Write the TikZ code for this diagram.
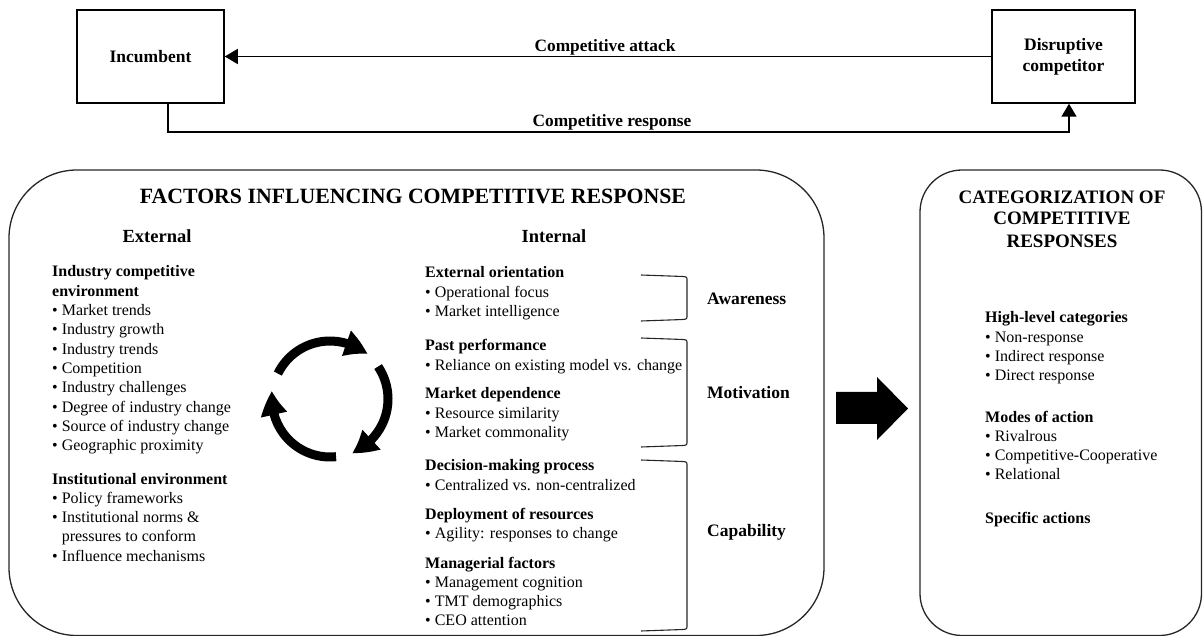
\documentclass[tikz,border=0pt]{standalone}
\usepackage{fontspec}
\setmainfont{Liberation Serif}
\usetikzlibrary{arrows.meta,bending}
\newcommand\bt{\textbullet\ }
\begin{document}
\begin{tikzpicture}[x=1pt,y=-1pt,
  actor/.style={draw, line width=1.5pt, align=center, inner sep=0pt,
    font=\fontsize{17.5}{21}\selectfont\bfseries},
  conn/.style={line width=1.5pt, -{Triangle[width=15pt,length=13pt]}},
  lbl/.style={anchor=base, inner sep=0pt, font=\fontsize{17.3}{20}\selectfont\bfseries},
  panel/.style={line width=1.3pt, draw=black!85},
  bigtitle/.style={anchor=base, inner sep=0pt, font=\fontsize{21.8}{22}\selectfont\bfseries},
  coltitle/.style={anchor=base, inner sep=0pt, font=\fontsize{18.5}{22}\selectfont\bfseries},
  body/.style={anchor=base west, inner sep=0pt, font=\fontsize{16}{19.3}\selectfont},
  head/.style={body, font=\fontsize{16}{19.3}\selectfont\bfseries},
  dim/.style={anchor=base west, inner sep=0pt, font=\fontsize{17.5}{21}\selectfont\bfseries},
  brace/.style={line width=1.1pt, draw=black!85},
  cyc/.style={line width=9pt, -{Triangle[width=25pt,length=24pt,bend]}}
]
\useasboundingbox (0,0) rectangle (1203,636);

% --- firms and their interaction ---
\node[actor, minimum width=147pt, minimum height=93pt] (inc) at (150.5,56.5) {Incumbent};
\node[actor, minimum width=143pt, minimum height=93pt] (dis) at (1063.5,56.5) {Disruptive\\competitor};
\draw[conn] (dis.west) -- (inc.east);
\node[lbl] (atk) at (605,52) {Competitive attack};
\coordinate (r1) at (168,132);
\coordinate (r2) at (1069,132);
\draw[conn] (inc.south -| r1) -- (r1) -- (r2) -- (dis.south -| r2);
\node[lbl] (rsp) at (612,127) {Competitive response};

% --- panels ---
\draw[panel, rounded corners=68pt] (9,170) rectangle (824,635.5);
\draw[panel, rounded corners=42pt] (920,170) rectangle (1201.5,635.5);

\node[bigtitle] (ftitle) at (413,204) {FACTORS INFLUENCING COMPETITIVE RESPONSE};
\node[coltitle] (ext) at (157,243) {External};
\node[coltitle] (int) at (554,243) {Internal};

% --- external factors ---
\node[head] (e1) at (52,277) {Industry competitive};
\node[head] (e2) at (52,296.3) {environment};
\node[body] (e3) at (52,315.6) {\bt Market trends};
\node[body] (e4) at (52,334.9) {\bt Industry growth};
\node[body] (e5) at (52,354.2) {\bt Industry trends};
\node[body] (e6) at (52,373.5) {\bt Competition};
\node[body] (e7) at (52,392.8) {\bt Industry challenges};
\node[body] (e8) at (52,412.1) {\bt Degree of industry change};
\node[body] (e9) at (52,431.4) {\bt Source of industry change};
\node[body] (e10) at (52,450.7) {\bt Geographic proximity};
\node[head] (i1) at (52,484) {Institutional environment};
\node[body] (i2) at (52,503.3) {\bt Policy frameworks};
\node[body] (i3) at (52,522.6) {\bt Institutional norms \&};
\node[body] (i4) at (52,541.9) {\phantom{\bt}pressures to conform};
\node[body] (i5) at (52,561.2) {\bt Influence mechanisms};

% --- internal factors ---
\node[head] (n1) at (425,278) {External orientation};
\node[body] (n2) at (425,297.3) {\bt Operational focus};
\node[body] (n3) at (425,316.6) {\bt Market intelligence};
\node[head] (n4) at (425,351) {Past performance};
\node[body] (n5) at (425,370.3) {\bt Reliance on existing model vs. change};
\node[head] (n6) at (425,399) {Market dependence};
\node[body] (n7) at (425,418.3) {\bt Resource similarity};
\node[body] (n8) at (425,437.6) {\bt Market commonality};
\node[head] (n9) at (425,471) {Decision-making process};
\node[body] (n10) at (425,490.3) {\bt Centralized vs. non-centralized};
\node[head] (n11) at (425,519) {Deployment of resources};
\node[body] (n12) at (425,538.3) {\bt Agility: responses to change};
\node[head] (n13) at (425,568) {Managerial factors};
\node[body] (n14) at (425,587.3) {\bt Management cognition};
\node[body] (n15) at (425,606.6) {\bt TMT demographics};
\node[body] (n16) at (425,625.9) {\bt CEO attention};

% --- brackets grouping the internal factors ---
\draw[brace] (641,275) -- (683,276.5) .. controls (687,277) .. (687,281) -- (687,315) .. controls (687,319) .. (683,319.5) -- (641,321);
\draw[brace] (641,338) -- (683,339.5) .. controls (687,340) .. (687,344) -- (687,441) .. controls (687,445) .. (683,445.5) -- (641,447);
\draw[brace] (641,460) -- (683,461.5) .. controls (687,462) .. (687,466) -- (687,625) .. controls (687,629) .. (683,629.5) -- (641,631);
\node[dim] (aw) at (707,305) {Awareness};
\node[dim] (mo) at (707,399) {Motivation};
\node[dim] (ca) at (707,536) {Capability};

% --- cycle symbol ---
\draw[cyc] (330,399) ++(-154:58) arc[start angle=-154, end angle=-50, radius=58];
\draw[cyc] (330,399) ++(-34:58) arc[start angle=-34, end angle=68, radius=58];
\draw[cyc] (330,399) ++(84:58) arc[start angle=84, end angle=188, radius=58];

% --- block arrow between panels ---
\fill (836,392) -- (877,392) -- (877,377) -- (908,408.5) -- (877,440) -- (877,424) -- (836,424) -- cycle;

% --- categorization panel ---
\node[bigtitle, font=\fontsize{19}{22}\selectfont\bfseries] (c1) at (1062,203.5) {CATEGORIZATION OF};
\node[bigtitle, font=\fontsize{19}{22}\selectfont\bfseries] (c2) at (1062,225) {COMPETITIVE};
\node[bigtitle, font=\fontsize{19}{22}\selectfont\bfseries] (c3) at (1062,248) {RESPONSES};
\node[head] (h1) at (985,323) {High-level categories};
\node[body] (h2) at (985,342.3) {\bt Non-response};
\node[body] (h3) at (985,361.6) {\bt Indirect response};
\node[body] (h4) at (985,380.9) {\bt Direct response};
\node[head] (m1) at (985,422) {Modes of action};
\node[body] (m2) at (985,441.3) {\bt Rivalrous};
\node[body] (m3) at (985,460.6) {\bt Competitive-Cooperative};
\node[body] (m4) at (985,479.9) {\bt Relational};
\node[head] (s1) at (985,523) {Specific actions};
\end{tikzpicture}
\end{document}
